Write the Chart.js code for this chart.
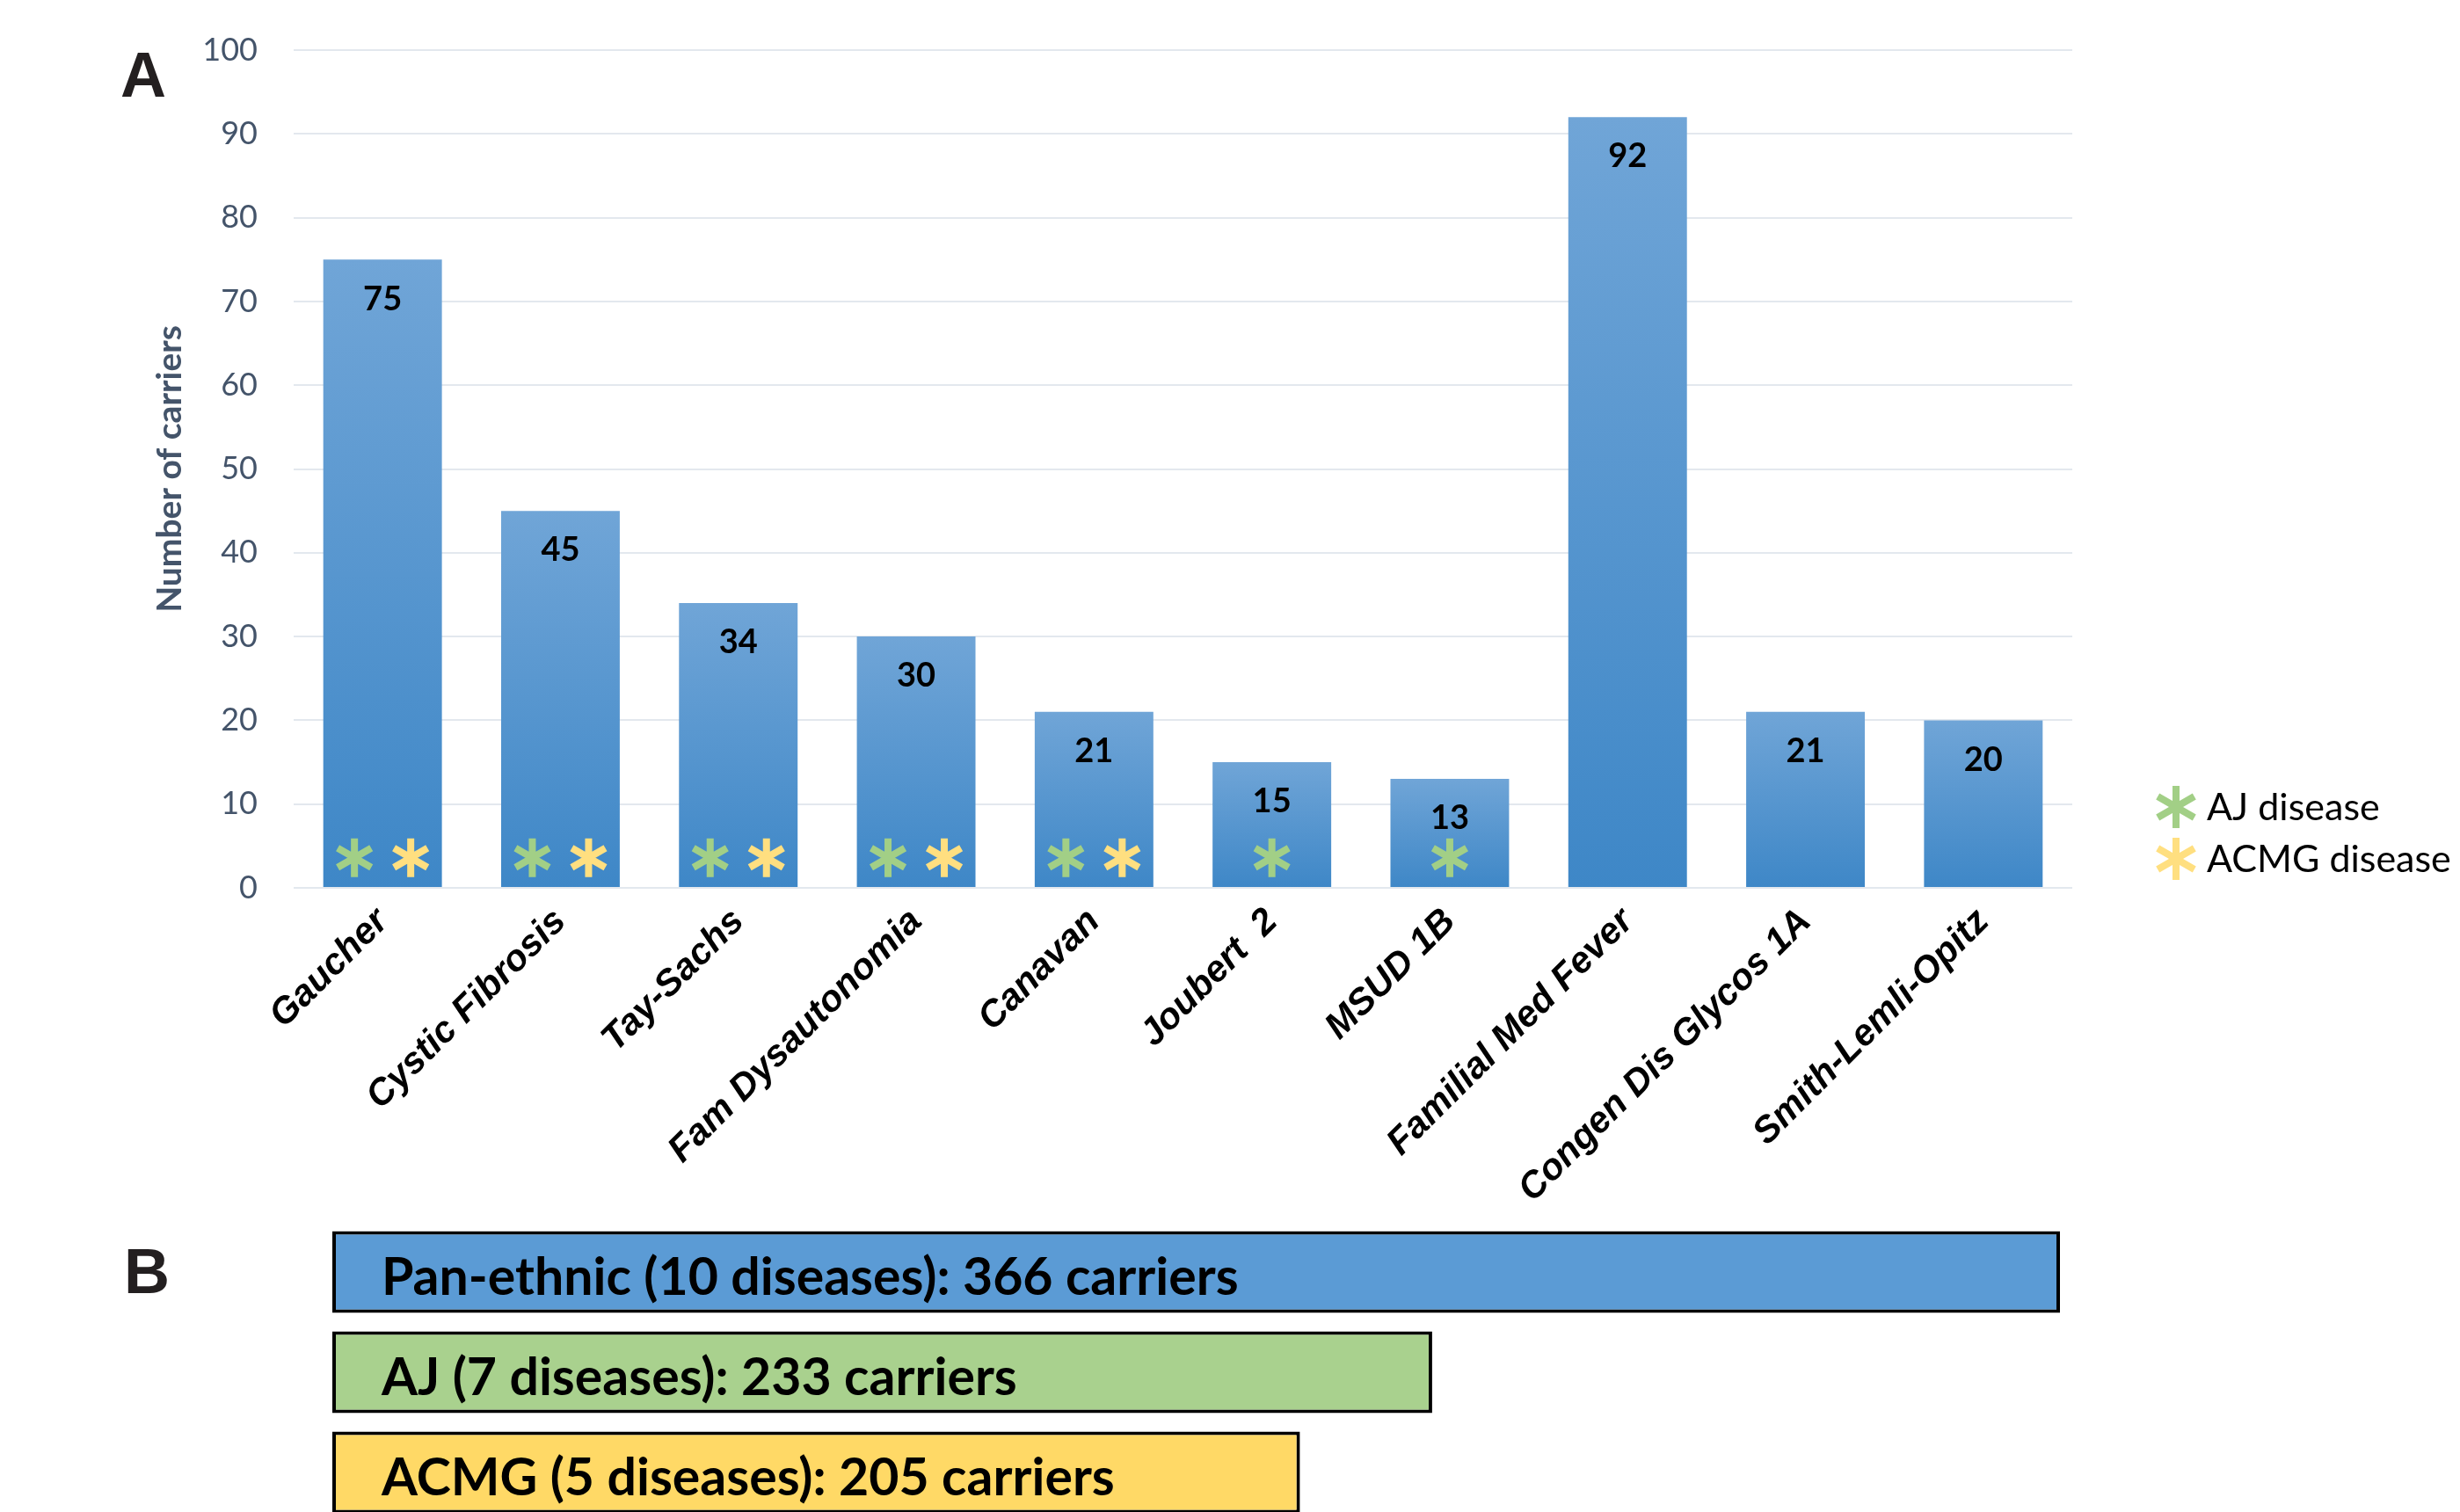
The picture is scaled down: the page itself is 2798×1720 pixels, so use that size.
<!DOCTYPE html>
<html>
<head>
<meta charset="utf-8">
<script src="https://cdn.jsdelivr.net/npm/chart.js@4.4.1/dist/chart.umd.min.js"></script>
<style>
  html, body { margin: 0; padding: 0; background: #fff; overflow: hidden; }
  body { width: 2798px; height: 1720px; position: relative; }
  .painel { position: absolute; font-family: "Liberation Sans", Arial, sans-serif; font-weight: bold; font-size: 72px; line-height: 72px; color: #231f20; }
  #caixaA { position: absolute; left: 0; top: 0; width: 2798px; height: 1390px; }
  #caixaB { position: absolute; left: 0; top: 1390px; width: 2798px; height: 352px; }
</style>
</head>
<body>
<div class="painel" style="left:137px; top:49px;">A</div>
<div class="painel" style="left:141px; top:1410px;">B</div>
<div id="caixaA"><canvas id="graficoA"></canvas></div>
<div id="caixaB"><canvas id="graficoB"></canvas></div>
<script>
// dados do painel A
const doencas = ['Gaucher', 'Cystic Fibrosis', 'Tay-Sachs', 'Fam Dysautonomia', 'Canavan',
    'Joubert  2', 'MSUD 1B', 'Familial Med Fever', 'Congen Dis Glycos 1A', 'Smith-Lemli-Opitz'];
const portadores = [75, 45, 34, 30, 21, 15, 13, 92, 21, 20];
const doencaAJ = [1, 1, 1, 1, 1, 1, 1, 0, 0, 0];
const doencaACMG = [1, 1, 1, 1, 1, 0, 0, 0, 0, 0];
const legendaAsteriscos = ['AJ disease', 'ACMG disease'];

// dados do painel B
const gruposB = ['Pan-ethnic (10 diseases)', 'AJ (7 diseases)', 'ACMG (5 diseases)'];
const totaisB = [366, 233, 205];

const corAJ = '#A2CF86';
const corACMG = '#FFDF80';

function desenhaAsterisco(ctx, x, y, cor, r) {
    ctx.strokeStyle = cor;
    ctx.lineWidth = 8;
    ctx.lineCap = 'butt';
    ctx.beginPath();
    [90, 30, -30].forEach(ang => {
        const a = ang * Math.PI / 180;
        ctx.moveTo(x - r * Math.cos(a), y - r * Math.sin(a));
        ctx.lineTo(x + r * Math.cos(a), y + r * Math.sin(a));
    });
    ctx.stroke();
}

const pluginRotulosA = {
    id: 'rotulosA',
    afterDatasetsDraw(chart) {
        const ctx = chart.ctx;
        const meta = chart.getDatasetMeta(0);
        const escalaY = chart.scales.y;
        const yAst = escalaY.getPixelForValue(3.6);
        ctx.save();
        ctx.font = 'bold 38px Lato';
        ctx.fillStyle = '#000';
        ctx.textAlign = 'center';
        ctx.textBaseline = 'middle';
        meta.data.forEach((barra, i) => {
            ctx.fillText(portadores[i], barra.x, barra.y + 45);
            if (doencaAJ[i] && doencaACMG[i]) {
                desenhaAsterisco(ctx, barra.x - 32, yAst, corAJ, 22);
                desenhaAsterisco(ctx, barra.x + 32, yAst, corACMG, 22);
            } else if (doencaAJ[i]) {
                desenhaAsterisco(ctx, barra.x, yAst, corAJ, 22);
            } else if (doencaACMG[i]) {
                desenhaAsterisco(ctx, barra.x, yAst, corACMG, 22);
            }
        });
        // legenda dos asteriscos
        const xl = chart.chartArea.right + 118;
        const cores = [corAJ, corACMG];
        ctx.font = '43px Lato';
        ctx.textAlign = 'left';
        ctx.textBaseline = 'alphabetic';
        legendaAsteriscos.forEach((txt, k) => {
            const yl = 918 + k * 59;
            desenhaAsterisco(ctx, xl, yl, cores[k], 24);
            ctx.fillStyle = '#000';
            ctx.fillText(txt, xl + 35, yl + 15);
        });
        ctx.restore();
    }
};

function gradienteBarra(context) {
    const chart = context.chart;
    if (!chart.chartArea || context.type !== 'data') return '#5B9BD5';
    const escalaY = chart.scales.y;
    const topo = escalaY.getPixelForValue(context.raw);
    const base = escalaY.getPixelForValue(0);
    const g = chart.ctx.createLinearGradient(0, topo, 0, base);
    g.addColorStop(0, '#70A5D7');
    g.addColorStop(1, '#3E87C7');
    return g;
}

new Chart(document.getElementById('graficoA'), {
    type: 'bar',
    data: {
        labels: doencas,
        datasets: [{
            data: portadores,
            backgroundColor: gradienteBarra,
            barPercentage: 0.667,
            categoryPercentage: 1
        }]
    },
    options: {
        responsive: true,
        maintainAspectRatio: false,
        animation: false,
        layout: { padding: { top: 57, right: 441, left: 0, bottom: 0 } },
        scales: {
            x: {
                grid: { display: false },
                border: { display: false },
                ticks: {
                    color: '#000',
                    autoSkip: false,
                    maxRotation: 45,
                    minRotation: 45,
                    padding: 6,
                    font: { family: 'Liberation Sans', weight: 'bold', style: 'italic', size: 42 }
                },
                afterFit(s) { s.height = 380; }
            },
            y: {
                min: 0,
                max: 100,
                ticks: { stepSize: 10, color: '#44546A', padding: 0, font: { family: 'Lato', size: 36 } },
                // tick invisivel so para afastar os numeros da grade
                grid: { color: '#E3E8EE', lineWidth: 2, drawTicks: true, tickLength: 41, tickColor: 'rgba(0,0,0,0)' },
                border: { display: false },
                title: {
                    display: true,
                    text: 'Number of carriers',
                    color: '#44546A',
                    font: { family: 'Lato', weight: 'bold', size: 39 },
                    padding: { top: 170, bottom: 0 }
                },
                afterFit(s) { s.width = 334; }
            }
        },
        plugins: { legend: { display: false }, tooltip: { enabled: false } }
    },
    plugins: [pluginRotulosA]
});

const pluginRotulosB = {
    id: 'rotulosB',
    afterDatasetsDraw(chart) {
        const ctx = chart.ctx;
        ctx.save();
        ctx.font = 'bold 59px Lato';
        ctx.fillStyle = '#000';
        ctx.textAlign = 'left';
        ctx.textBaseline = 'alphabetic';
        chart.getDatasetMeta(0).data.forEach((barra, i) => {
            ctx.fillText(`${gruposB[i]}: ${totaisB[i]} carriers`, barra.base + 56, barra.y + 26);
        });
        ctx.restore();
    }
};

new Chart(document.getElementById('graficoB'), {
    type: 'bar',
    data: {
        labels: gruposB,
        datasets: [{
            data: totaisB,
            backgroundColor: ['#5B9BD5', '#A9D18E', '#FFD966'],
            borderColor: '#000',
            borderWidth: 4,
            borderSkipped: false,
            barPercentage: 0.816,
            categoryPercentage: 1
        }]
    },
    options: {
        indexAxis: 'y',
        responsive: true,
        maintainAspectRatio: false,
        animation: false,
        layout: { padding: { top: 0, right: 2798 - 2343, left: 378, bottom: 10 } },
        scales: {
            x: { display: false, min: 0, max: Math.max(...totaisB) },
            y: { display: false }
        },
        plugins: { legend: { display: false }, tooltip: { enabled: false } }
    },
    plugins: [pluginRotulosB]
});
</script>
</body>
</html>
